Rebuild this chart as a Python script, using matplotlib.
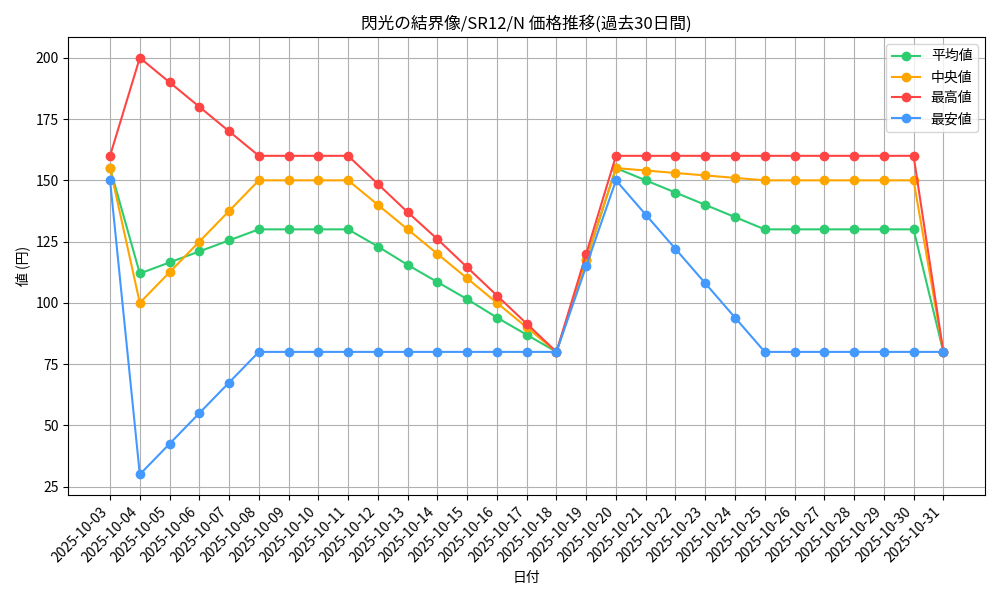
import matplotlib
matplotlib.use('Agg')
import matplotlib.pyplot as plt
import pandas as pd

plt.rcParams['font.family'] = ['Noto Sans CJK JP', 'DejaVu Sans']

dates = [d.strftime('%Y-%m-%d') for d in pd.date_range('2025-10-03', '2025-10-31')]

avg_vals = [155, 112, 116.5, 121, 125.5, 130, 130, 130, 130, 123, 115.5, 108.5, 101.5,
            94, 87, 80, 117.5, 155, 150, 145, 140, 135, 130, 130, 130, 130, 130, 130, 80]
med_vals = [155, 100, 112.5, 125, 137.5, 150, 150, 150, 150, 140, 130, 120, 110,
            100, 90, 80, 117.5, 155, 154, 153, 152, 151, 150, 150, 150, 150, 150, 150, 80]
max_vals = [160, 200, 190, 180, 170, 160, 160, 160, 160, 148.5, 137, 126, 114.5,
            103, 91.5, 80, 120, 160, 160, 160, 160, 160, 160, 160, 160, 160, 160, 160, 80]
min_vals = [150, 30, 42.5, 55, 67.5, 80, 80, 80, 80, 80, 80, 80, 80,
            80, 80, 80, 115, 150, 136, 122, 108, 94, 80, 80, 80, 80, 80, 80, 80]

series = [
    ('平均値', avg_vals, '#2ecc71'),
    ('中央値', med_vals, '#ffa500'),
    ('最高値', max_vals, '#ff4444'),
    ('最安値', min_vals, '#4499ff'),
]

fig, ax = plt.subplots(figsize=(10, 6), dpi=100)
x = range(len(dates))
for label, vals, color in series:
    ax.plot(x, vals, marker='o', color=color, label=label, linewidth=1.5, markersize=6)

ax.set_xticks(list(x))
ax.set_xticklabels(dates, rotation=45, ha='right')
ax.set_title('閃光の結界像/SR12/N 価格推移(過去30日間)')
ax.set_xlabel('日付')
ax.set_ylabel('値 (円)')
ax.grid(True)
ax.legend(loc='upper right')
plt.tight_layout()
plt.savefig('out.png')
